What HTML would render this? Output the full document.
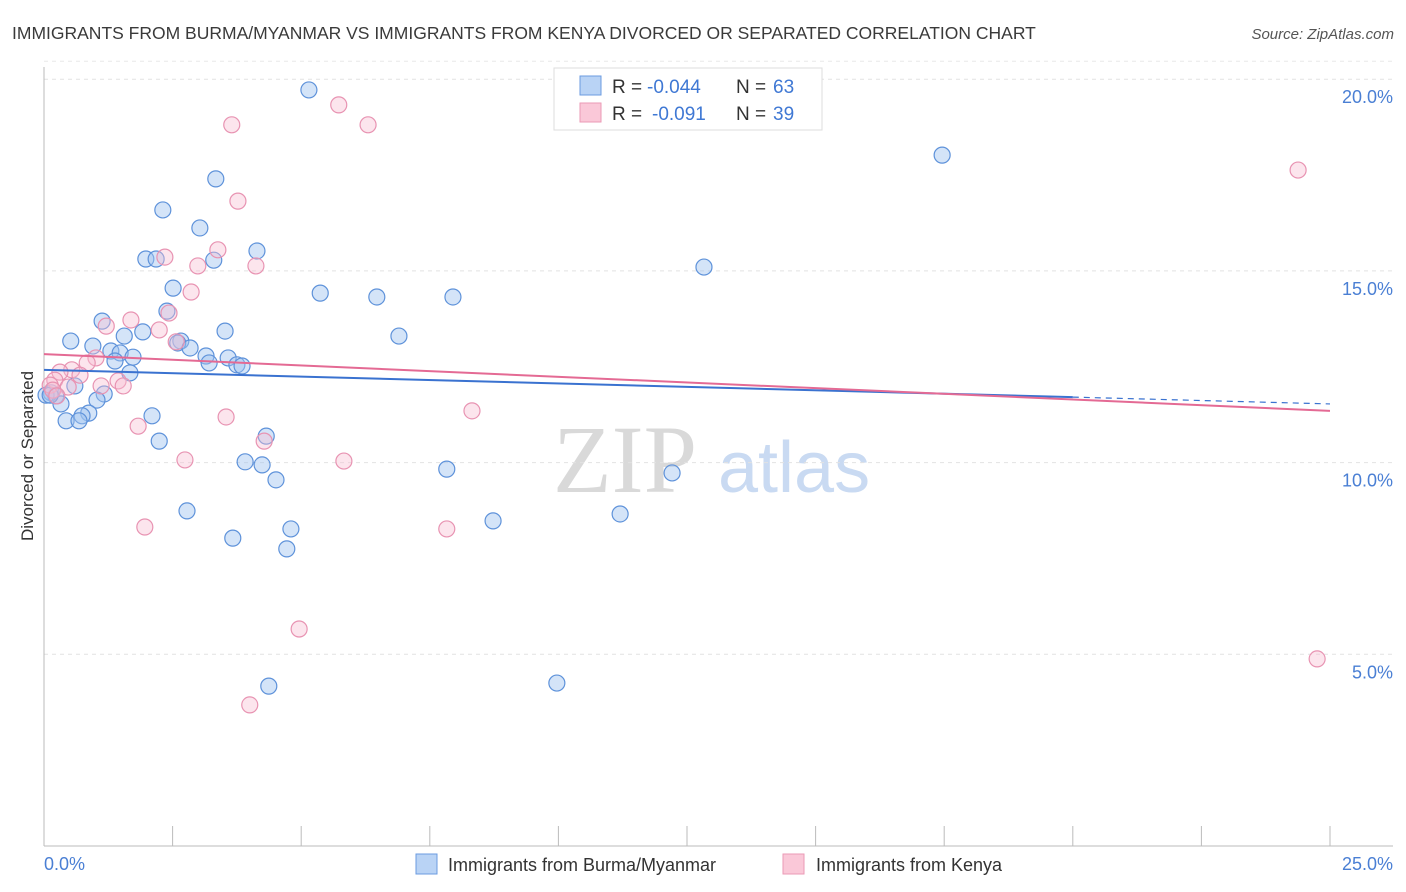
<!DOCTYPE html>
<html><head><meta charset="utf-8"><style>
body{margin:0;background:#fff;font-family:"Liberation Sans",sans-serif;}
svg{display:block}
</style></head><body>
<svg id="chart" width="1406" height="892">
<text x="12" y="39" font-size="17.5" fill="#3a3a3a">IMMIGRANTS FROM BURMA/MYANMAR VS IMMIGRANTS FROM KENYA DIVORCED OR SEPARATED CORRELATION CHART</text>
<text x="1394" y="39" font-size="15" fill="#555" font-style="italic" text-anchor="end">Source: ZipAtlas.com</text>
<text transform="translate(33,456) rotate(-90)" font-size="17" fill="#333" text-anchor="middle">Divorced or Separated</text>
<g>
<text x="553" y="492" font-size="96" font-family="Liberation Serif,serif" fill="#d9d9d9">ZIP</text>
<text x="718" y="492" font-size="72" fill="#c9daf2">atlas</text>
</g>
<g id="grid"></g><g id="axes"></g><g id="pts"></g><g id="trend"></g>
<g>
<rect x="554" y="68" width="268" height="62" fill="#fff" stroke="#ddd"/>
<rect x="580" y="76" width="21" height="19" fill="#b9d3f5" stroke="#6b9be0"/>
<rect x="580" y="103" width="21" height="19" fill="#fac8d8" stroke="#eb9ab6"/>
<text y="93" font-size="19" fill="#333"><tspan x="612">R = </tspan><tspan x="647" fill="#3f78d4">-0.044</tspan><tspan x="736">N = </tspan><tspan x="773" fill="#3f78d4">63</tspan></text>
<text y="120" font-size="19" fill="#333"><tspan x="612">R = </tspan><tspan x="652" fill="#3f78d4">-0.091</tspan><tspan x="736">N = </tspan><tspan x="773" fill="#3f78d4">39</tspan></text>
</g>
<g>
<rect x="416" y="854" width="21" height="20" fill="#b9d3f5" stroke="#6b9be0"/>
<text x="448" y="871" font-size="18" fill="#333">Immigrants from Burma/Myanmar</text>
<rect x="783" y="854" width="21" height="20" fill="#fac8d8" stroke="#eb9ab6"/>
<text x="816" y="871" font-size="18" fill="#333">Immigrants from Kenya</text>
</g>
</svg>
<script>
const blueX=[5.15,17.46,3.34,2.31,3.03,4.14,1.98,2.18,3.30,12.83,2.51,5.37,6.47,7.95,1.13,2.39,1.92,3.52,6.90,1.56,0.52,2.66,2.60,0.95,1.30,1.48,2.84,1.73,3.15,3.58,1.38,3.21,3.75,3.85,1.67,0.60,1.17,0.14,0.23,1.03,0.33,0.87,0.74,2.10,0.43,0.68,4.32,2.24,3.91,4.24,7.83,12.21,4.51,2.78,11.20,8.73,4.80,3.67,4.72,4.37,9.97,0.04,0.12];
const blueY=[19.72,18.02,17.40,16.59,16.12,15.52,15.31,15.31,15.28,15.10,14.55,14.42,14.32,14.32,13.69,13.95,13.41,13.43,13.30,13.30,13.17,13.17,13.12,13.04,12.91,12.86,12.99,12.75,12.78,12.73,12.65,12.60,12.55,12.52,12.34,12.00,11.79,11.82,11.74,11.63,11.53,11.29,11.22,11.22,11.09,11.09,10.69,10.56,10.02,9.94,9.83,9.73,9.55,8.74,8.66,8.48,8.27,8.03,7.75,4.17,4.25,11.76,11.76];
const pinkX=[5.73,3.65,6.30,24.38,3.77,3.38,2.35,2.99,4.12,2.86,2.43,1.69,1.21,2.24,2.57,1.01,0.84,0.54,0.31,0.70,1.44,0.21,1.11,1.54,0.47,0.12,0.17,0.25,8.32,3.54,1.83,4.28,2.74,5.83,1.96,7.83,4.96,4.00,24.75];
const pinkY=[19.33,18.81,18.81,17.63,16.82,15.55,15.36,15.13,15.13,14.45,13.90,13.72,13.56,13.46,13.15,12.73,12.60,12.42,12.36,12.28,12.13,12.15,12.00,12.00,11.97,12.02,11.89,11.74,11.35,11.19,10.95,10.56,10.07,10.04,8.32,8.27,5.66,3.68,4.88];
const yTicks=[5,10,15,20];
const yTickLabels=["5.0%","10.0%","15.0%","20.0%"];
const xTickLabels=["0.0%","25.0%"];
const blueTrend=[12.42,11.53];
const pinkTrend=[12.83,11.35];
const blueSolidEnd=20;

const X=v=>44+v*51.44, Y=v=>846-v*38.34;
const NS="http://www.w3.org/2000/svg";
function mk(tag,parent,attrs){const e=document.createElementNS(NS,tag);for(const k in attrs)e.setAttribute(k,attrs[k]);parent.appendChild(e);return e;}
const grid=document.getElementById('grid'),axes=document.getElementById('axes'),pts=document.getElementById('pts'),tr=document.getElementById('trend');
yTicks.forEach((t,i)=>{
 const l=mk('line',grid,{x1:44,x2:1393,y1:Y(t),y2:Y(t),stroke:'#e2e2e2','stroke-dasharray':'4,4'});
 
 
 const tx=mk('text',grid,{x:1393,y:Y(t)+24,'font-size':18,fill:'#4a7fd4','text-anchor':'end'});
 tx.textContent=yTickLabels[i];
 
 
});
{const g=mk('line',grid,{x1:44,x2:1393,y1:Y(20)-18,y2:Y(20)-18,stroke:'#e8e8e8','stroke-dasharray':'4,4'});

}
const ax=mk('line',axes,{x1:44,x2:1393,y1:846,y2:846,stroke:'#bbb'});


const ay=mk('line',axes,{x1:44,x2:44,y1:67,y2:846,stroke:'#bbb'});


for(let i=0;i<=10;i++){const v=i*2.5;
 const t=mk('line',axes,{x1:X(v),x2:X(v),y1:826,y2:846,stroke:'#bbb'});
 
 }
[[0,'start'],[25,'end']].forEach((p,i)=>{
 const tx=mk('text',axes,{x:i?1393:44,y:870,'font-size':18,fill:'#4a7fd4','text-anchor':p[1]});
 tx.textContent=xTickLabels[i];
 
 });
blueX.forEach((v,i)=>{
 const c=mk('circle',pts,{cx:X(v),cy:Y(blueY[i]),r:8,fill:'rgba(160,196,240,0.45)',stroke:'#5e92da','stroke-width':1.2});
 
 });
pinkX.forEach((v,i)=>{
 const c=mk('circle',pts,{cx:X(v),cy:Y(pinkY[i]),r:8,fill:'rgba(248,190,210,0.4)',stroke:'#e893b2','stroke-width':1.2});
 
 });
const by=v=>blueTrend[0]+(blueTrend[1]-blueTrend[0])*v/25;
const b1=mk('line',tr,{x1:X(0),y1:Y(by(0)),x2:X(blueSolidEnd),y2:Y(by(blueSolidEnd)),stroke:'#3a72d0','stroke-width':2});


const b2=mk('line',tr,{x1:X(blueSolidEnd),y1:Y(by(blueSolidEnd)),x2:X(25),y2:Y(by(25)),stroke:'#3a72d0','stroke-width':1.2,'stroke-dasharray':'6,5'});


const p1=mk('line',tr,{x1:X(0),y1:Y(pinkTrend[0]),x2:X(25),y2:Y(pinkTrend[1]),stroke:'#e46a94','stroke-width':2});


</script>
</body></html>
